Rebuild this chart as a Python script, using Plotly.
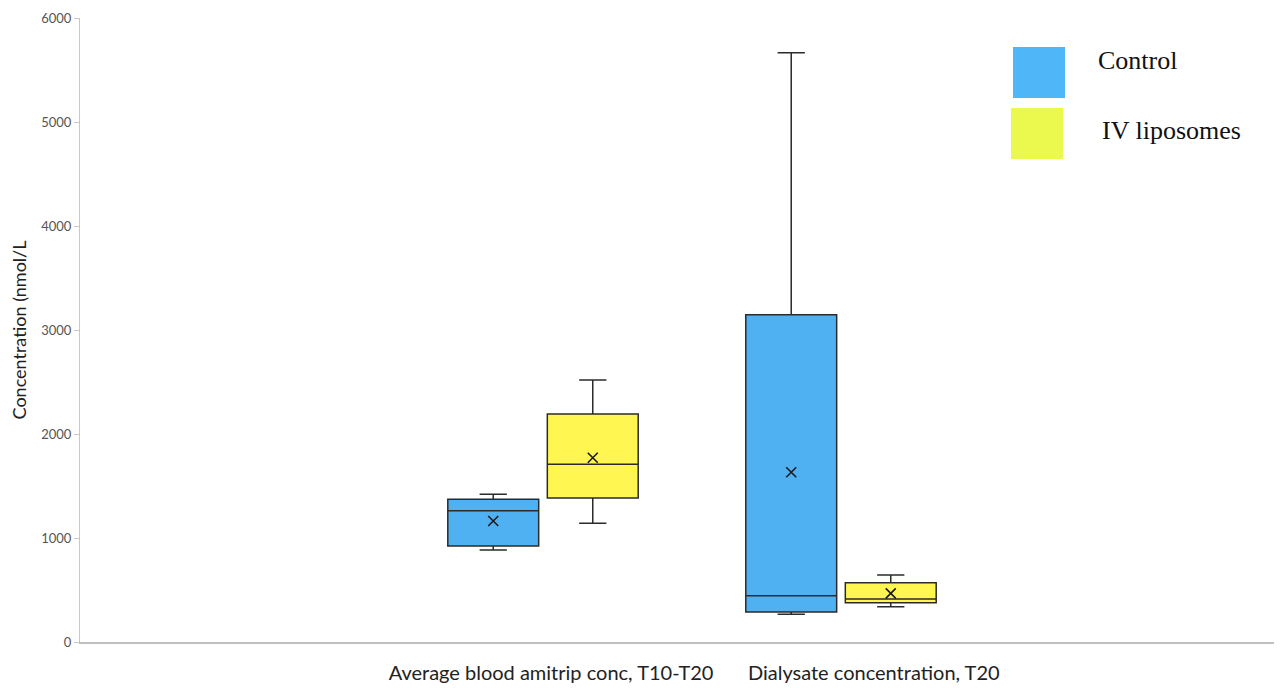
import plotly.graph_objects as go

# ---- data ----
categories = ["Average blood amitrip conc, T10-T20", "Dialysate concentration, T20"]
series_names = ["Control", "IV liposomes"]

control_lower = [885, 266]
control_q1 = [923, 288]
control_median = [1262, 445]
control_q3 = [1372, 3147]
control_upper = [1420, 5666]
control_mean = [1163, 1632]

lipo_lower = [1141, 340]
lipo_q1 = [1385, 378]
lipo_median = [1709, 413]
lipo_q3 = [2192, 570]
lipo_upper = [2519, 644]
lipo_mean = [1772, 468]

y_ticks = [0, 1000, 2000, 3000, 4000, 5000, 6000]

# ---- layout helpers ----
group_pos = [1.0, 2.0]
offset = 0.167
box_w = 0.305
label_pos = [1.027, 2.11]

blue = "#4FB1F1"
yellow = "#FFF652"
legend_blue = "#4FB6F7"
legend_yellow = "#EBF94F"
edge = "#2b2b2b"

PAGE = 8  # default body margin of the html page
W, H = 1282 - PAGE, 688 - PAGE
L, R, T, B = 80 - PAGE, 0, 18 - PAGE, 46
pw, ph = W - L - R, H - T - B

fig = go.Figure()

series = [
    (series_names[0], -offset, control_lower, control_q1, control_median, control_q3, control_upper, control_mean, blue),
    (series_names[1], offset, lipo_lower, lipo_q1, lipo_median, lipo_q3, lipo_upper, lipo_mean, yellow),
]

for name, off, lo, q1, med, q3, up, mean, col in series:
    xs = [g + off for g in group_pos]
    fig.add_trace(go.Box(
        name=name, x=xs, q1=q1, median=med, q3=q3, lowerfence=lo, upperfence=up,
        width=box_w, whiskerwidth=0.3, fillcolor=col,
        line=dict(color=edge, width=1.5), boxpoints=False, showlegend=False,
        hoverinfo="skip",
    ))
    fig.add_trace(go.Scatter(
        x=xs, y=mean, mode="markers", showlegend=False, hoverinfo="skip",
        marker=dict(symbol="x-thin", size=10, line=dict(color="#1a1a1a", width=1.6)),
    ))

# custom legend (large squares + serif text), reference-pixel coordinates
leg_items = [(series_names[0], legend_blue, 1013, 47, 1096, 61), (series_names[1], legend_yellow, 1011, 108, 1100, 130)]
for name, col, x0, y0, tx, ty in leg_items:
    x0 -= PAGE; y0 -= PAGE; tx -= PAGE; ty -= PAGE
    fig.add_shape(type="rect", xref="paper", yref="paper",
                  x0=(x0 - L) / pw, x1=(x0 + 52 - L) / pw,
                  y0=1 - (y0 + 51 - T) / ph, y1=1 - (y0 - T) / ph,
                  fillcolor=col, line=dict(width=0))
    fig.add_annotation(xref="paper", yref="paper", x=(tx - L) / pw, y=1 - (ty - T) / ph,
                       text=name, showarrow=False, xanchor="left", yanchor="middle",
                       font=dict(family="Liberation Serif", size=26, color="#111111"))

fig.update_layout(
    width=W, height=H,
    margin=dict(l=L, r=R, t=T, b=B, pad=0),
    paper_bgcolor="white", plot_bgcolor="white",
    showlegend=False,
    xaxis=dict(range=[-0.5537, 3.4799], tickvals=label_pos, ticktext=categories,
               showgrid=False, zeroline=False, showline=True, linecolor="#BFBFBF", linewidth=2,
               ticks="", ticklabelstandoff=12,
               tickfont=dict(family="Lato", size=20, color="#222222")),
    yaxis=dict(range=[0, 6000], tickvals=y_ticks, showgrid=False, zeroline=False,
               showline=True, linecolor="#C8C8C8", linewidth=1,
               ticks="outside", ticklen=5, tickcolor="#C8C8C8",
               tickfont=dict(family="Lato", size=13, color="#555555"),
               title=dict(text="Concentration (nmol/L", font=dict(family="Lato", size=18, color="#222222"),
                          standoff=16)),
)

fig.write_html("out.html")
